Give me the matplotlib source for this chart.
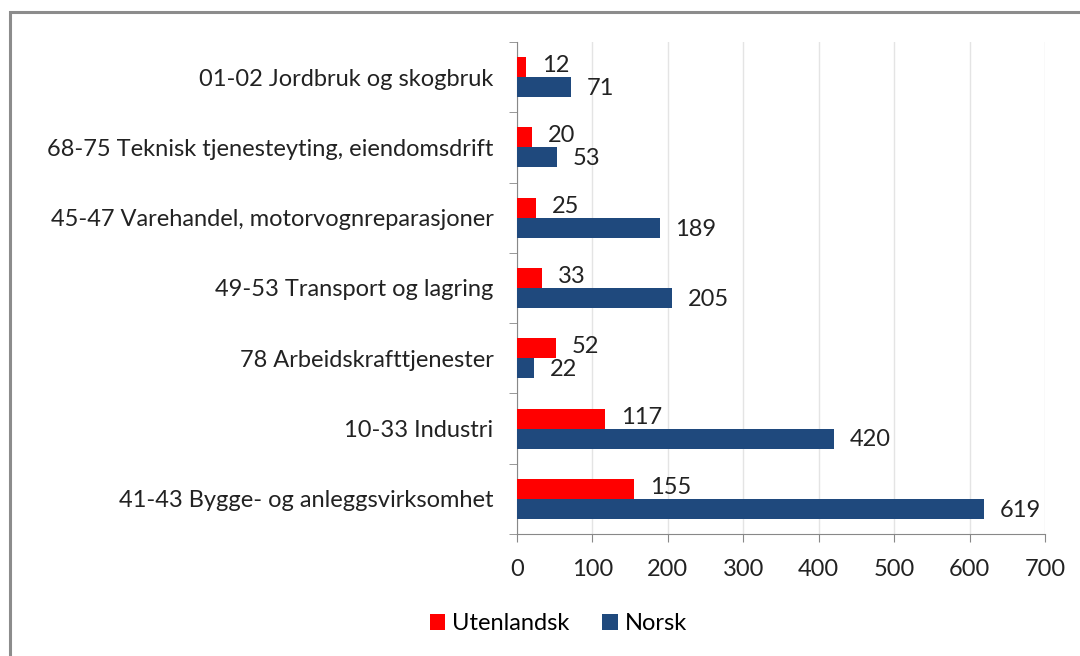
import numpy as np
import matplotlib.pyplot as plt
from matplotlib.patches import Rectangle

plt.rcParams['font.family'] = ['Lato', 'DejaVu Sans']

kategorier = ["41-43 Bygge- og anleggsvirksomhet", "10-33 Industri",
              "78 Arbeidskrafttjenester", "49-53 Transport og lagring",
              "45-47 Varehandel, motorvognreparasjoner",
              "68-75 Teknisk tjenesteyting, eiendomsdrift",
              "01-02 Jordbruk og skogbruk"]
utenlandsk = [155, 117, 52, 33, 25, 20, 12]
norsk = [619, 420, 22, 205, 189, 53, 71]

rod = '#ff0000'
bla = '#1f497d'
fs = 17

fig = plt.figure(figsize=(10.8, 6.56), dpi=100)
ax = fig.add_axes([0.4787, 0.186, 0.4889, 0.750])

# ramme rundt diagrammet
fig.patches.append(Rectangle((10/1080, -0.1), 1.2, 1 - 12/656 + 0.1, transform=fig.transFigure,
                             fill=False, edgecolor='#8c8c8c', linewidth=2.2, zorder=0))

y = np.arange(len(kategorier))
h = 0.285
ax.barh(y + h/2, utenlandsk, height=h, color=rod, label='Utenlandsk', zorder=3)
ax.barh(y - h/2, norsk, height=h, color=bla, label='Norsk', zorder=3)

for i in range(len(kategorier)):
    ax.text(utenlandsk[i] + 21, y[i] + h/2 + 0.02, str(utenlandsk[i]), va='center', ha='left',
            fontsize=fs, color='#222222', zorder=4)
    ax.text(norsk[i] + 21, y[i] - h/2 - 0.02, str(norsk[i]), va='center', ha='left',
            fontsize=fs, color='#222222', zorder=4)

ax.set_xlim(0, 700)
ax.set_ylim(-0.5, len(kategorier) - 0.5)
ax.set_xticks(np.arange(0, 701, 100))
ax.set_yticks(y)
ax.set_yticklabels(kategorier)
ax.set_yticks(np.arange(-0.5, len(kategorier), 1), minor=True)
ax.tick_params(axis='y', which='major', length=0, pad=17, labelsize=fs, labelcolor='#222222')
ax.tick_params(axis='y', which='minor', length=6, color='#888888', direction='out')
ax.tick_params(axis='x', length=6, color='#888888', labelsize=fs, labelcolor='#222222', pad=12)
ax.grid(axis='x', color='#e4e4e4', linewidth=1, zorder=0)

for s in ['top', 'right']:
    ax.spines[s].set_visible(False)
for s in ['left', 'bottom']:
    ax.spines[s].set_color('#888888')

fig.legend(loc='center', bbox_to_anchor=(0.517, 0.049), ncol=2, frameon=False, fontsize=fs,
           handlelength=0.65, handleheight=0.65, handletextpad=0.3, columnspacing=1.4)

fig.savefig('out.png', dpi=100)
